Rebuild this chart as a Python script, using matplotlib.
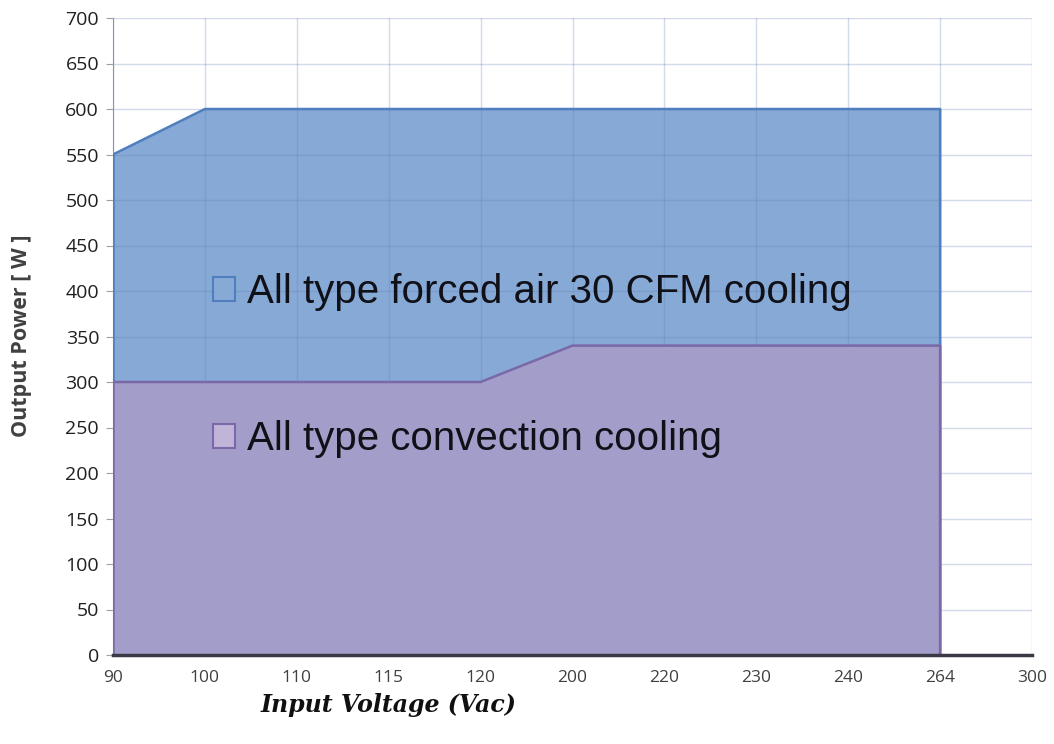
import matplotlib.pyplot as plt
from matplotlib.patches import Patch

voltages = ['90', '100', '110', '115', '120', '200', '220', '230', '240', '264', '300']
forced_air = [550, 600, 600, 600, 600, 600, 600, 600, 600, 600]
convection = [300, 300, 300, 300, 300, 340, 340, 340, 340, 340]
yticks = list(range(0, 701, 50))

blue_fill = '#87a9d5'
blue_edge = '#4f7fbf'
purple_fill = '#a39ec9'
purple_edge = '#7a68a8'

fig = plt.figure(figsize=(10.54, 7.44), dpi=100)
ax = fig.add_axes([113 / 1054, 1 - 655 / 744, (1032 - 113) / 1054, (655 - 18) / 744])

x = list(range(len(forced_air)))
ax.fill_between(x, 0, forced_air, color=blue_fill, zorder=2)
ax.plot(x + [x[-1]], forced_air + [0], color=blue_edge, lw=1.8, zorder=3)
ax.plot([0, 0], [0, forced_air[0]], color=blue_edge, lw=1.8, zorder=3)
ax.fill_between(x, 0, convection, color=purple_fill, zorder=4)
ax.plot(x + [x[-1]], convection + [0], color=purple_edge, lw=1.8, zorder=5)
ax.plot([0, 0], [0, convection[0]], color=purple_edge, lw=1.8, zorder=5)

ax.set_xlim(0, len(voltages) - 1)
ax.set_ylim(0, 700)
ax.set_xticks(range(len(voltages)))
ax.set_xticklabels(voltages, fontsize=12.5, color='#404040', family='Open Sans')
ax.set_yticks(yticks)
ax.set_yticklabels([str(v) for v in yticks], fontsize=14, color='#202020', family='Open Sans')
ax.tick_params(axis='x', length=0, pad=11)
ax.tick_params(axis='y', length=5, color='#a0a0a0', pad=5)
ax.grid(True, color='#5a7fb0', alpha=0.28, lw=1, zorder=4.5)
ax.set_axisbelow(False)

for s in ['top', 'right']:
    ax.spines[s].set_visible(False)
ax.spines['left'].set_color('#8aa0c8')
ax.spines['bottom'].set_color('#3a3a44')
ax.spines['bottom'].set_linewidth(2.5)
ax.spines['bottom'].set_zorder(6)

fig.text(22 / 1054, 1 - 336 / 744, 'Output Power [ W ]', fontsize=15.5, fontweight='bold',
         color='#404040', family='Open Sans', rotation=90, ha='center', va='center')
fig.text(388 / 1054, 1 - 705 / 744, 'Input Voltage (Vac)', fontsize=17, fontweight='bold',
         fontstyle='italic', family='DejaVu Serif', ha='center', va='center', color='#101010')

handles = [Patch(facecolor=blue_fill, edgecolor=blue_edge, lw=1.5),
           Patch(facecolor='#c2b4d8', edgecolor=purple_edge, lw=1.5)]
ax.legend(handles, ['All type forced air 30 CFM cooling', 'All type convection cooling'],
          loc='upper left', bbox_to_anchor=(0.087, 0.631), frameon=False,
          prop={'family': 'Liberation Sans', 'size': 29}, handlelength=0.55, handleheight=0.55,
          handletextpad=0.3, labelspacing=2.7, borderpad=0, labelcolor='#101018')

plt.savefig('out.png', dpi=100)
